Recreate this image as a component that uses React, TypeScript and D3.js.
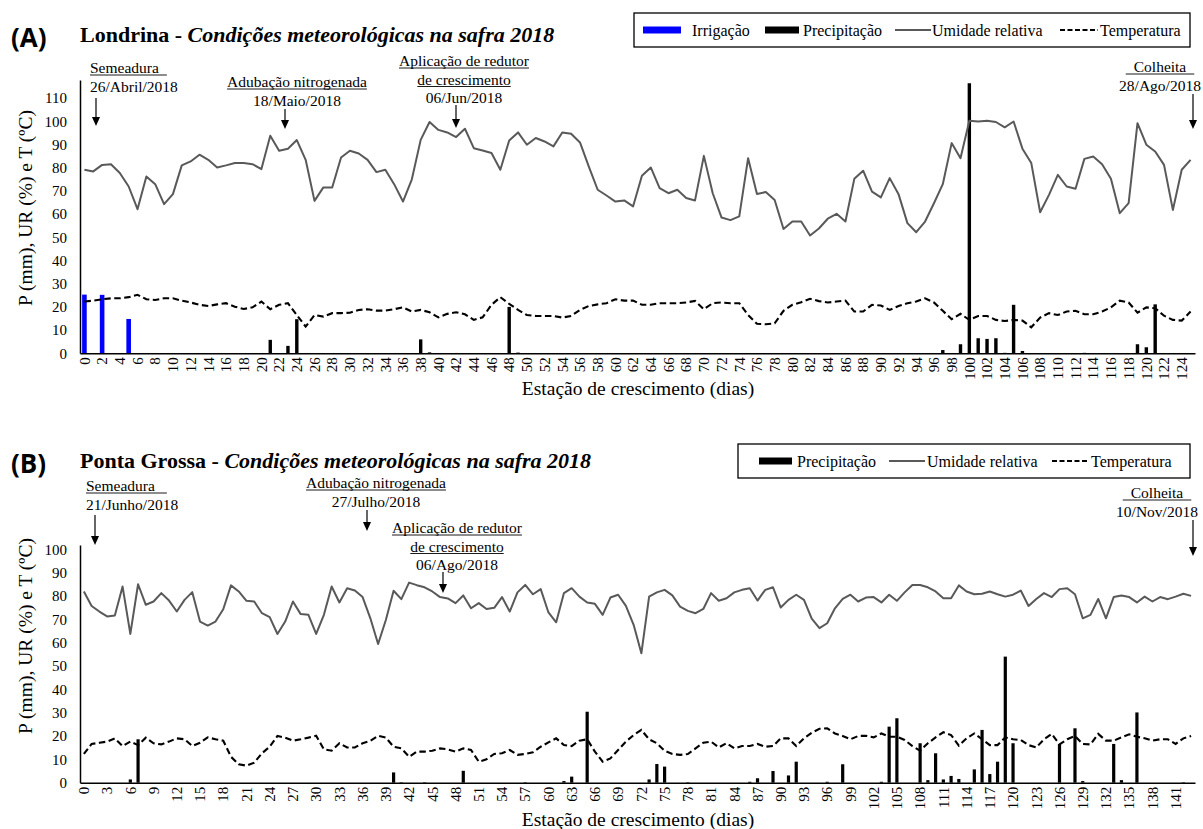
import React, { useEffect, useRef } from 'react';
import * as d3 from 'd3';

// Londrina (A) - days 0..125
const rhA = [
  79.1, 78.4, 81.2, 81.5, 77.7, 71.9, 62.1, 76.2, 72.9, 64.3,
  68.6, 81.0, 82.7, 85.6, 83.4, 80.1, 81.0, 82.0, 82.0, 81.5,
  79.4, 93.8, 87.3, 88.2, 91.9, 83.4, 65.7, 71.5, 71.5, 84.4,
  87.3, 86.1, 83.4, 78.1, 79.1, 72.9, 65.4, 75.0, 92.0, 99.7,
  96.3, 95.2, 93.2, 96.8, 88.4, 87.4, 86.3, 79.1, 91.7, 95.2,
  89.9, 92.8, 91.3, 89.2, 95.2, 94.6, 90.9, 80.5, 70.5, 68.0,
  65.4, 65.9, 63.3, 76.5, 80.1, 71.2, 69.0, 70.5, 66.9, 65.9,
  85.1, 69.0, 58.5, 57.4, 59.0, 84.1, 68.7, 69.5, 66.1, 53.6,
  56.8, 56.8, 50.8, 53.8, 58.0, 60.1, 56.8, 75.2, 78.7, 69.7,
  67.2, 75.5, 68.6, 56.1, 52.2, 56.8, 64.7, 72.9, 90.6, 84.1,
  100.2, 99.9, 100.2, 99.7, 97.4, 99.9, 88.2, 82.0, 60.8, 68.3,
  76.9, 71.9, 70.9, 83.8, 84.8, 81.5, 75.2, 60.4, 64.7, 99.2,
  89.9, 87.0, 81.2, 61.8, 79.1, 83.4,
];

const tempA = [
  22.3, 22.7, 23.3, 23.7, 23.7, 24.2, 25.2, 23.3, 23.0, 23.7,
  23.7, 22.7, 21.9, 20.9, 20.4, 21.1, 21.6, 20.1, 19.1, 19.8,
  22.3, 19.0, 20.9, 21.6, 16.5, 11.5, 16.5, 15.8, 17.3, 17.3,
  17.5, 18.7, 19.0, 18.4, 18.4, 19.0, 19.8, 18.0, 18.7, 17.7,
  15.5, 17.0, 17.7, 16.8, 14.4, 15.5, 20.9, 24.2, 21.3, 18.7,
  16.5, 16.1, 16.1, 16.1, 15.4, 16.1, 18.7, 20.4, 21.1, 21.6,
  23.3, 22.7, 22.7, 20.9, 20.9, 21.6, 21.6, 21.6, 21.9, 22.6,
  19.0, 21.6, 21.9, 21.6, 21.6, 16.5, 12.7, 12.5, 12.9, 18.3,
  20.9, 22.0, 23.5, 22.5, 21.9, 22.3, 22.7, 18.0, 18.0, 20.9,
  20.6, 18.7, 20.4, 21.6, 22.3, 23.7, 21.9, 18.3, 14.7, 17.0,
  14.4, 16.1, 16.1, 14.4, 13.9, 14.4, 14.1, 11.2, 15.4, 17.3,
  16.5, 18.0, 18.3, 16.8, 16.8, 18.0, 19.8, 22.7, 21.9, 17.5,
  19.8, 19.4, 16.2, 14.4, 14.1, 18.0,
];

// [day, mm]
const irrigA: [number, number][] = [[0, 25.3], [2, 25.2], [5, 14.8]];
const precipA: [number, number][] = [
  [21, 5.8], [23, 3.2], [24, 14.7], [38, 6], [39, 0.4], [42, 0.15], [48, 20],
  [49, 0.3], [97, 1.4], [99, 3.9], [100, 116.4], [101, 6.5], [102, 6.2],
  [103, 6.5], [104, 0.2], [105, 20.9], [106, 1], [113, 0.2], [119, 3.9],
  [120, 2.6], [121, 21.1],
];

// Ponta Grossa (B) - days 0..143
const rhB = [
  81.9, 75.7, 73.3, 71.2, 71.6, 84.0, 63.7, 85.0, 76.2, 77.6,
  81.2, 78.0, 73.3, 78.3, 81.6, 69.0, 67.3, 69.0, 74.3, 84.5,
  81.9, 77.9, 77.6, 72.6, 70.9, 63.7, 69.0, 77.6, 72.2, 71.9,
  63.7, 71.9, 84.0, 77.2, 83.3, 82.3, 79.5, 70.4, 59.4, 69.7,
  82.2, 78.6, 85.7, 84.6, 83.7, 81.9, 79.5, 78.9, 76.9, 80.2,
  74.7, 76.9, 74.4, 74.9, 79.5, 73.3, 81.5, 84.7, 80.7, 82.9,
  72.9, 68.7, 81.2, 83.3, 79.7, 77.2, 76.6, 71.9, 79.3, 80.5,
  75.7, 67.6, 55.4, 79.7, 81.5, 82.6, 80.2, 75.4, 73.6, 72.6,
  74.4, 81.2, 77.9, 79.0, 81.5, 82.6, 83.3, 78.0, 82.6, 83.7,
  75.0, 78.3, 80.5, 78.3, 70.3, 66.2, 68.3, 74.7, 78.7, 80.5,
  77.6, 79.3, 79.5, 77.2, 80.5, 77.9, 81.5, 84.7, 84.7, 83.7,
  81.9, 79.0, 79.0, 84.5, 81.9, 80.7, 80.9, 81.9, 80.7, 79.7,
  80.5, 82.3, 75.7, 78.7, 81.2, 79.5, 82.9, 83.3, 80.7, 70.4,
  71.9, 78.7, 70.4, 79.5, 80.2, 79.5, 77.2, 79.7, 77.6, 79.5,
  78.6, 79.7, 80.9, 80.0,
];

const tempB = [
  12.3, 16.6, 17.1, 17.6, 19.0, 15.7, 17.6, 16.1, 19.3, 16.9,
  16.4, 17.6, 19.0, 18.6, 15.7, 17.1, 19.4, 18.6, 18.0, 11.1,
  7.9, 7.3, 8.6, 12.6, 15.4, 20.0, 19.3, 18.0, 18.6, 19.3,
  20.1, 14.3, 13.7, 16.9, 15.1, 15.1, 16.9, 17.9, 20.1, 19.3,
  15.4, 14.7, 11.1, 13.3, 13.3, 13.7, 14.7, 14.3, 13.3, 14.7,
  14.0, 9.0, 10.0, 12.3, 12.6, 14.0, 11.9, 12.3, 13.0, 15.4,
  17.3, 19.0, 16.1, 15.7, 18.0, 18.6, 13.3, 9.0, 10.4, 14.0,
  17.6, 20.4, 22.6, 18.6, 16.9, 13.7, 12.3, 11.9, 12.3, 14.7,
  17.1, 17.6, 15.1, 16.9, 14.7, 15.7, 15.7, 16.6, 15.4, 15.7,
  19.0, 19.0, 15.7, 19.0, 21.4, 23.1, 23.3, 21.1, 20.0, 18.6,
  20.0, 20.1, 19.4, 21.1, 19.7, 19.7, 18.3, 15.7, 13.7, 16.9,
  19.4, 21.6, 20.4, 15.9, 19.0, 21.1, 18.6, 16.1, 16.1, 19.4,
  18.6, 18.3, 16.1, 15.1, 18.6, 20.9, 16.4, 18.6, 20.0, 16.6,
  16.4, 20.9, 18.0, 18.0, 19.4, 20.7, 19.7, 19.0, 18.0, 18.6,
  18.6, 16.6, 19.0, 20.0,
];

const precipB: [number, number][] = [
  [6, 1.4], [7, 18.6], [40, 4.4], [41, 0.2], [44, 0.2], [49, 5.1], [57, 0.2],
  [62, 0.7], [63, 2.6], [65, 30.4], [73, 1.4], [74, 8], [75, 6.9], [78, 0.2],
  [86, 0.4], [87, 1.9], [89, 5], [91, 3.1], [92, 9], [96, 0.4], [98, 7.9],
  [103, 0.4], [104, 24], [105, 27.6], [108, 16.9], [109, 1.1], [110, 12.6],
  [111, 1.4], [112, 2.9], [113, 1.6], [115, 5.7], [116, 22.6], [117, 3.7],
  [118, 9], [119, 54], [120, 16.9], [126, 16.6], [128, 23.3], [129, 0.7],
  [133, 16.6], [134, 1.1], [136, 30.1], [142, 0.2],
];

const yTicksA = d3.range(0, 111, 10);
const yTicksB = d3.range(0, 101, 10);

const SERIF = "'Liberation Serif', 'Times New Roman', serif";

type Note = { x: number; anchor: string; lines: { t: string; ul?: [number, number] }[]; y0: number; arrow: [number, number, number] };

function App() {
  const ref = useRef<SVGSVGElement>(null);

  useEffect(() => {
    if (!ref.current) return;
    const svg = d3.select(ref.current);
    svg.selectAll('*').remove();

    const drawArrow = (g: any, x: number, y1: number, y2: number) => {
      g.append('line').attr('x1', x).attr('x2', x).attr('y1', y1).attr('y2', y2 - 6)
        .attr('stroke', '#000').attr('stroke-width', 1.2);
      g.append('path').attr('d', `M${x - 4},${y2 - 9}L${x + 4},${y2 - 9}L${x},${y2}Z`).attr('fill', '#000');
    };

    const drawNote = (g: any, n: Note) => {
      n.lines.forEach((l, i) => {
        const t = g.append('text')
          .attr('x', n.x).attr('y', n.y0 + i * 18.5)
          .attr('text-anchor', n.anchor)
          .style('font-family', SERIF).style('font-size', '15.5px').style('fill', '#000')
          .text(l.t);
        if (l.ul) {
          const w = (t.node() as SVGTextElement).getComputedTextLength();
          const x0 = n.anchor === 'middle' ? n.x - w / 2 : n.x;
          g.append('line')
            .attr('x1', x0 - l.ul[0]).attr('x2', x0 + w + l.ul[1])
            .attr('y1', n.y0 + i * 18.5 + 2).attr('y2', n.y0 + i * 18.5 + 2)
            .attr('stroke', '#000').attr('stroke-width', 0.9);
        }
      });
      drawArrow(g, n.arrow[0], n.arrow[1], n.arrow[2]);
    };

    const drawPanel = (opts: {
      rh: number[]; temp: number[]; precip: [number, number][]; irrig?: [number, number][];
      y0: number; yTop: number; yMax: number; yTicks: number[]; every: number; barW: number;
      tag: string; city: string; titleY: number; labelY: number; xTitleY: number;
    }) => {
      const g = svg.append('g');
      const days = d3.range(opts.rh.length);
      const x = d3.scaleBand<number>().domain(days).range([80, 1195]).padding(0);
      const cx = (d: number) => (x(d) as number) + x.bandwidth() / 2;
      const y = d3.scaleLinear().domain([0, opts.yMax]).range([opts.y0, opts.yTop]);

      // bars
      if (opts.irrig) {
        g.selectAll('.irr').data(opts.irrig).enter().append('rect')
          .attr('x', d => cx(d[0]) - 2.3).attr('width', 4.6)
          .attr('y', d => y(d[1])).attr('height', d => opts.y0 - y(d[1]))
          .attr('fill', '#0000ff');
      }
      g.selectAll('.pr').data(opts.precip).enter().append('rect')
        .attr('x', d => cx(d[0]) - opts.barW / 2).attr('width', opts.barW)
        .attr('y', d => y(d[1])).attr('height', d => opts.y0 - y(d[1]))
        .attr('fill', '#000');

      // lines
      const line = d3.line<number>().x((_, i) => cx(i)).y(v => y(v));
      g.append('path').datum(opts.rh).attr('d', line).attr('fill', 'none')
        .attr('stroke', '#595959').attr('stroke-width', 2).attr('stroke-linejoin', 'round');
      g.append('path').datum(opts.temp).attr('d', line).attr('fill', 'none')
        .attr('stroke', '#000').attr('stroke-width', 2.1).attr('stroke-dasharray', '6.5,3.5');

      // x axis
      const xAxis = g.append('g').attr('transform', `translate(0,${opts.y0})`)
        .call(d3.axisBottom(x).tickValues(days.filter(d => d % opts.every === 0)).tickSize(0).tickSizeOuter(0));
      xAxis.select('.domain').attr('stroke', '#000').attr('stroke-width', 1.5);
      xAxis.selectAll('text')
        .attr('transform', 'rotate(-90)').attr('x', -4).attr('y', 0).attr('dy', '0.35em')
        .attr('text-anchor', 'end')
        .style('font-family', SERIF).style('font-size', '15px').style('fill', '#000');

      // y axis
      const yAxis = g.append('g').attr('transform', 'translate(80,0)')
        .call(d3.axisLeft(y).tickValues(opts.yTicks).tickSize(0).tickSizeOuter(0).tickPadding(13));
      yAxis.select('.domain').attr('stroke', '#000').attr('stroke-width', 1.5);
      yAxis.selectAll('text').style('font-family', SERIF).style('font-size', '15px').style('fill', '#000');

      // axis titles
      g.append('text').attr('transform', `translate(32,${opts.labelY}) rotate(-90)`)
        .attr('text-anchor', 'middle').style('font-family', SERIF).style('font-size', '19.5px')
        .text('P (mm), UR (%) e T (ºC)');
      g.append('text').attr('x', 638).attr('y', opts.xTitleY).attr('text-anchor', 'middle')
        .style('font-family', SERIF).style('font-size', '19.5px').text('Estação de crescimento (dias)');

      // panel tag + title
      g.append('text').attr('x', 11).attr('y', opts.titleY + 5)
        .style('font-family', "'Open Sans', sans-serif").style('font-weight', 700).style('font-size', '26px')
        .text(opts.tag);
      const tt = g.append('text').attr('x', 80).attr('y', opts.titleY)
        .style('font-family', SERIF).style('font-size', '22px').style('font-weight', 700);
      tt.append('tspan').text(`${opts.city} - `);
      tt.append('tspan').style('font-style', 'italic').text('Condições meteorológicas na safra 2018');
      return g;
    };

    const gA = drawPanel({
      rh: rhA, temp: tempA, precip: precipA, irrig: irrigA,
      y0: 353.3, yTop: 80, yMax: 117.8, yTicks: yTicksA, every: 2, barW: 3.4,
      tag: '(A)', city: 'Londrina', titleY: 42, labelY: 208, xTitleY: 395,
    });
    const gB = drawPanel({
      rh: rhB, temp: tempB, precip: precipB,
      y0: 782.7, yTop: 545, yMax: 101.8, yTicks: yTicksB, every: 3, barW: 3.2,
      tag: '(B)', city: 'Ponta Grossa', titleY: 468, labelY: 636, xTitleY: 826,
    });

    const notesA: Note[] = [
      { x: 90, anchor: 'start', y0: 73, lines: [{ t: 'Semeadura', ul: [0, 8] }, { t: '26/Abril/2018' }], arrow: [96, 98, 126] },
      { x: 297, anchor: 'middle', y0: 87, lines: [{ t: 'Adubação nitrogenada', ul: [0, 0] }, { t: '18/Maio/2018' }], arrow: [285, 109, 129] },
      { x: 464, anchor: 'middle', y0: 66, lines: [{ t: 'Aplicação de redutor', ul: [0, 0] }, { t: 'de crescimento', ul: [0, 0] }, { t: '06/Jun/2018' }], arrow: [456, 105, 128] },
      { x: 1160, anchor: 'middle', y0: 72, lines: [{ t: 'Colheita', ul: [8, 8] }, { t: '28/Ago/2018' }], arrow: [1193, 94, 129] },
    ];
    const notesB: Note[] = [
      { x: 86, anchor: 'start', y0: 491, lines: [{ t: 'Semeadura', ul: [0, 12] }, { t: '21/Junho/2018' }], arrow: [95, 515, 545] },
      { x: 376, anchor: 'middle', y0: 488, lines: [{ t: 'Adubação nitrogenada', ul: [0, 0] }, { t: '27/Julho/2018' }], arrow: [367, 510, 531] },
      { x: 457, anchor: 'middle', y0: 533, lines: [{ t: 'Aplicação de redutor', ul: [0, 0] }, { t: 'de crescimento', ul: [0, 0] }, { t: '06/Ago/2018' }], arrow: [443, 572, 593] },
      { x: 1157, anchor: 'middle', y0: 498, lines: [{ t: 'Colheita', ul: [8, 8] }, { t: '10/Nov/2018' }], arrow: [1193, 520, 556] },
    ];
    notesA.forEach(n => drawNote(gA, n));
    notesB.forEach(n => drawNote(gB, n));

    // legends
    const legend = (box: [number, number, number, number], items: { kind: string; x0: number; x1: number; tx: number; label: string }[]) => {
      const g = svg.append('g');
      const [bx0, by0, bx1, by1] = box;
      g.append('rect').attr('x', bx0).attr('y', by0).attr('width', bx1 - bx0).attr('height', by1 - by0)
        .attr('fill', '#fff').attr('stroke', '#000').attr('stroke-width', 1.3);
      const cy = (by0 + by1) / 2;
      items.forEach(it => {
        if (it.kind === 'irr' || it.kind === 'pr') {
          g.append('rect').attr('x', it.x0).attr('y', cy - 3.5).attr('width', it.x1 - it.x0).attr('height', 7)
            .attr('fill', it.kind === 'irr' ? '#0000ff' : '#000');
        } else {
          g.append('line').attr('x1', it.x0).attr('x2', it.x1).attr('y1', cy).attr('y2', cy)
            .attr('stroke', it.kind === 'rh' ? '#595959' : '#000').attr('stroke-width', 2)
            .attr('stroke-dasharray', it.kind === 'temp' ? '5,2.5' : null);
        }
        g.append('text').attr('x', it.tx).attr('y', cy + 5.5)
          .style('font-family', SERIF).style('font-size', '16px').text(it.label);
      });
    };
    legend([634, 13, 1190, 47], [
      { kind: 'irr', x0: 643, x1: 681, tx: 692, label: 'Irrigação' },
      { kind: 'pr', x0: 765, x1: 799, tx: 803, label: 'Precipitação' },
      { kind: 'rh', x0: 895, x1: 931, tx: 932, label: 'Umidade relativa' },
      { kind: 'temp', x0: 1060, x1: 1098, tx: 1100, label: 'Temperatura' },
    ]);
    legend([738, 444, 1190, 478], [
      { kind: 'pr', x0: 759, x1: 792, tx: 797, label: 'Precipitação' },
      { kind: 'rh', x0: 889, x1: 925, tx: 927, label: 'Umidade relativa' },
      { kind: 'temp', x0: 1052, x1: 1089, tx: 1091, label: 'Temperatura' },
    ]);
  }, []);

  return (
    <svg ref={ref} width={1203} height={829}
      style={{ position: 'absolute', left: 0, top: 0, background: '#fff' }} />
  );
}

export default App;
